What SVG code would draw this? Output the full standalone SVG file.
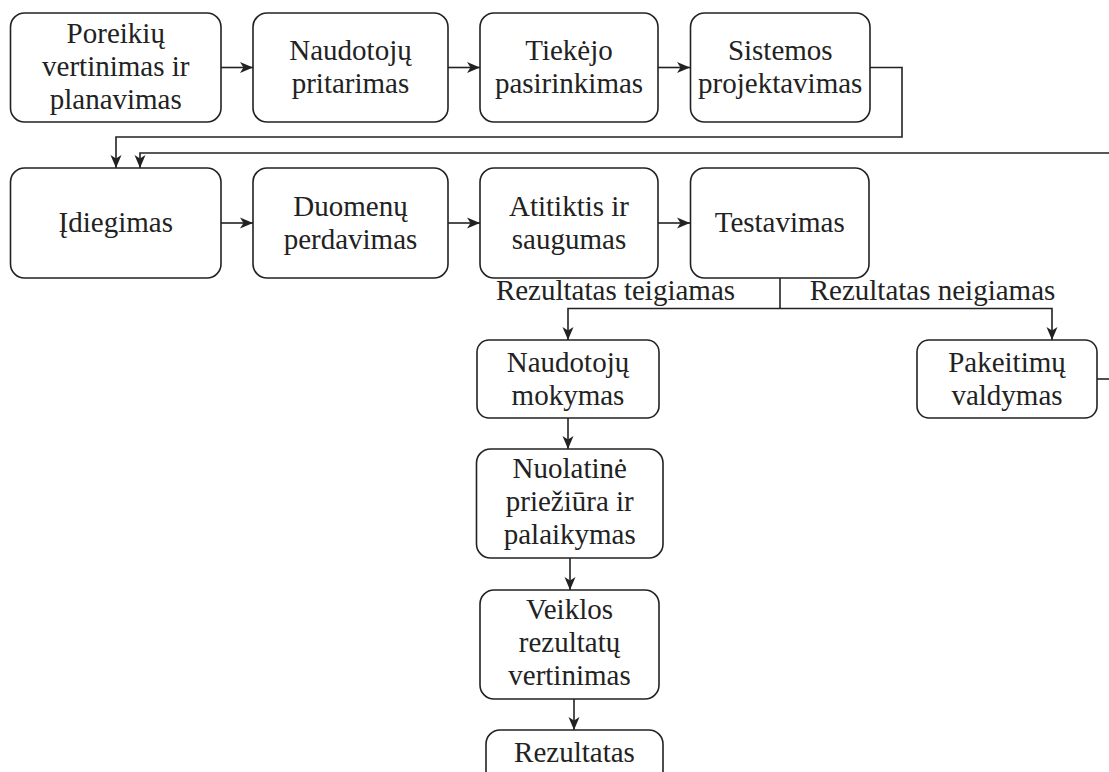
<svg xmlns="http://www.w3.org/2000/svg" width="1109" height="772" viewBox="0 0 1109 772">
  <style>
    .box { fill: #ffffff; stroke: #222222; stroke-width: 1.6; }
    .lbl { font-family: "Liberation Serif", "Times New Roman", serif; font-size: 29px; fill: #222222; text-anchor: middle; }
    .edge { fill: none; stroke: #222222; stroke-width: 1.6; }
    .arr { marker-end: url(#head); }
  </style>
  <defs>
    <marker id="head" markerUnits="userSpaceOnUse" markerWidth="14" markerHeight="14" viewBox="0 0 14 14" refX="13" refY="7" orient="auto">
      <path d="M0,1.5 L13,7 L0,12.5 L3.5,7 Z" fill="#222222"/>
    </marker>
  </defs>
  <rect width="1109" height="772" fill="#ffffff"/>

  <!-- connectors -->
  <g id="connectors">
    <path class="edge arr" d="M221,67.5 H253"/>
    <path class="edge arr" d="M448,67.5 H480"/>
    <path class="edge arr" d="M658,67.5 H690"/>
    <path class="edge arr" d="M870,67.5 H902 V137 H116 V168"/>
    <path class="edge arr" d="M1109,153 H140 V168"/>
    <path class="edge arr" d="M221,223 H253"/>
    <path class="edge arr" d="M448,223 H480"/>
    <path class="edge arr" d="M658,223 H690"/>
    <path class="edge" d="M780,278 V308.5"/>
    <path class="edge arr" d="M780,308.5 H568 V340"/>
    <path class="edge arr" d="M780,308.5 H1052 V340"/>
    <path class="edge" d="M1097,379 H1109"/>
    <path class="edge arr" d="M568,418 V449"/>
    <path class="edge arr" d="M570,558 V590"/>
    <path class="edge arr" d="M574,699 V730"/>
    <text class="lbl" x="615.5" y="300">Rezultatas teigiamas</text>
    <text class="lbl" x="932.5" y="300">Rezultatas neigiamas</text>
  </g>

  <!-- row 1 -->
  <g id="n-poreikiai">
    <rect class="box" x="10.5" y="13" width="210.5" height="109" rx="14"/>
    <text class="lbl" x="115.75" y="42.5">Poreikių</text>
    <text class="lbl" x="115.75" y="75.5">vertinimas ir</text>
    <text class="lbl" x="115.75" y="108.5">planavimas</text>
  </g>
  <g id="n-pritarimas">
    <rect class="box" x="253" y="13" width="195" height="109" rx="14"/>
    <text class="lbl" x="350.5" y="60">Naudotojų</text>
    <text class="lbl" x="350.5" y="93">pritarimas</text>
  </g>
  <g id="n-tiekejas">
    <rect class="box" x="480" y="13" width="178" height="109" rx="14"/>
    <text class="lbl" x="569" y="60">Tiekėjo</text>
    <text class="lbl" x="569" y="93">pasirinkimas</text>
  </g>
  <g id="n-projektavimas">
    <rect class="box" x="690.5" y="13" width="179.5" height="109" rx="14"/>
    <text class="lbl" x="780.25" y="60">Sistemos</text>
    <text class="lbl" x="780.25" y="93">projektavimas</text>
  </g>

  <!-- row 2 -->
  <g id="n-idiegimas">
    <rect class="box" x="10.5" y="168" width="210.5" height="110" rx="14"/>
    <text class="lbl" x="115.75" y="232">Įdiegimas</text>
  </g>
  <g id="n-perdavimas">
    <rect class="box" x="253" y="168" width="195" height="110" rx="14"/>
    <text class="lbl" x="350.5" y="215.5">Duomenų</text>
    <text class="lbl" x="350.5" y="248.5">perdavimas</text>
  </g>
  <g id="n-atitiktis">
    <rect class="box" x="480" y="168" width="178" height="110" rx="14"/>
    <text class="lbl" x="569" y="215.5">Atitiktis ir</text>
    <text class="lbl" x="569" y="248.5">saugumas</text>
  </g>
  <g id="n-testavimas">
    <rect class="box" x="690.5" y="168" width="178.5" height="110" rx="14"/>
    <text class="lbl" x="779.75" y="232">Testavimas</text>
  </g>

  <!-- branches -->
  <g id="n-mokymas">
    <rect class="box" x="477" y="340" width="182" height="78" rx="12"/>
    <text class="lbl" x="568" y="371.5">Naudotojų</text>
    <text class="lbl" x="568" y="404.5">mokymas</text>
  </g>
  <g id="n-pakeitimai">
    <rect class="box" x="917" y="340" width="180" height="78" rx="12"/>
    <text class="lbl" x="1007" y="371.5">Pakeitimų</text>
    <text class="lbl" x="1007" y="404.5">valdymas</text>
  </g>
  <g id="n-prieziura">
    <rect class="box" x="476.5" y="449" width="186.5" height="109" rx="14"/>
    <text class="lbl" x="569.75" y="478">Nuolatinė</text>
    <text class="lbl" x="569.75" y="511">priežiūra ir</text>
    <text class="lbl" x="569.75" y="544">palaikymas</text>
  </g>
  <g id="n-vertinimas">
    <rect class="box" x="480" y="590" width="179" height="109" rx="14"/>
    <text class="lbl" x="569.5" y="619">Veiklos</text>
    <text class="lbl" x="569.5" y="652">rezultatų</text>
    <text class="lbl" x="569.5" y="685">vertinimas</text>
  </g>
  <g id="n-rezultatas">
    <rect class="box" x="486" y="730" width="177" height="90" rx="14"/>
    <text class="lbl" x="574.5" y="762">Rezultatas</text>
  </g>
</svg>
